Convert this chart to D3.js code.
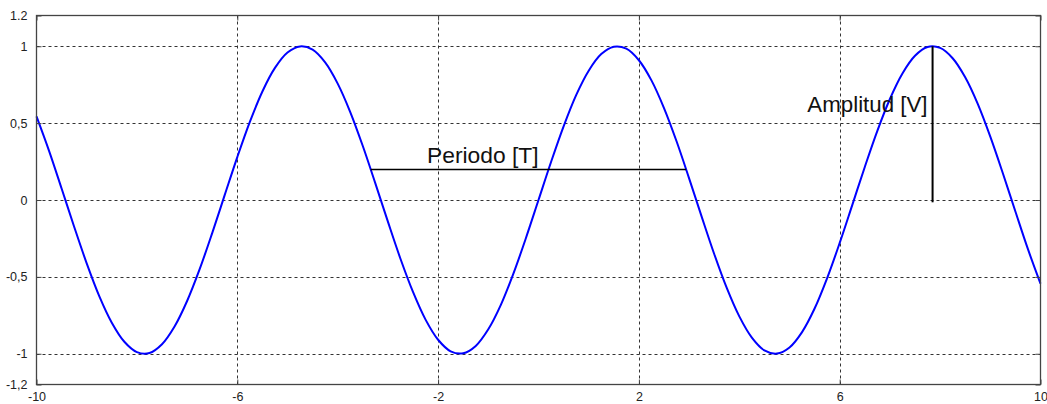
<!DOCTYPE html>
<html>
<head>
<meta charset="utf-8">
<script src="https://cdn.jsdelivr.net/npm/d3@7"></script>
<style>
  html, body { margin: 0; padding: 0; background: #fff; }
  svg { display: block; font-family: "Liberation Sans", Arial, sans-serif; }
</style>
</head>
<body>
<svg id="chart" width="1047" height="404"></svg>
<script>
// Sampled signal: x positions and measured amplitude
const xValues = [
  -10, -9.75, -9.5, -9.25, -9, -8.75, -8.5, -8.25, -8, -7.75, -7.5, -7.25, -7, -6.75, -6.5, -6.25,
  -6, -5.75, -5.5, -5.25, -5, -4.75, -4.5, -4.25, -4, -3.75, -3.5, -3.25, -3, -2.75, -2.5, -2.25,
  -2, -1.75, -1.5, -1.25, -1, -0.75, -0.5, -0.25, 0, 0.25, 0.5, 0.75, 1, 1.25, 1.5, 1.75,
  2, 2.25, 2.5, 2.75, 3, 3.25, 3.5, 3.75, 4, 4.25, 4.5, 4.75, 5, 5.25, 5.5, 5.75,
  6, 6.25, 6.5, 6.75, 7, 7.25, 7.5, 7.75, 8, 8.25, 8.5, 8.75, 9, 9.25, 9.5, 9.75, 10
];
const yValues = [
  0.544, 0.320, 0.075, -0.174, -0.412, -0.625, -0.798, -0.922, -0.989, -0.995, -0.938, -0.823, -0.657, -0.450, -0.215, 0.033,
  0.279, 0.508, 0.706, 0.859, 0.959, 0.999, 0.978, 0.895, 0.757, 0.572, 0.351, 0.108, -0.141, -0.382, -0.598, -0.778,
  -0.909, -0.984, -0.997, -0.949, -0.841, -0.682, -0.479, -0.247, 0, 0.247, 0.479, 0.682, 0.841, 0.949, 0.997, 0.984,
  0.909, 0.778, 0.598, 0.382, 0.141, -0.108, -0.351, -0.572, -0.757, -0.895, -0.978, -0.999, -0.959, -0.859, -0.706, -0.508,
  -0.279, -0.033, 0.215, 0.450, 0.657, 0.823, 0.938, 0.995, 0.989, 0.922, 0.798, 0.625, 0.412, 0.174, -0.075, -0.320, -0.544
];

// Axis ticks and their labels
const xTicks = [-10, -6, -2, 2, 6, 10];
const xTickLabels = ["-10", "-6", "-2", "2", "6", "10"];
const yTicks = [-1.2, -1, -0.5, 0, 0.5, 1, 1.2];
const yTickLabels = ["-1,2", "-1", "-0,5", "0", "0,5", "1", "1.2"];

// Annotations: period bar and amplitude bar
const periodBar = [-3.343, 2.940];   // x extent
const periodLevel = 0.2;             // y level
const periodLabel = "Periodo [T]";
const amplitudeAt = 7.85;            // x position
const amplitudeSpan = [-0.015, 1];   // y extent
const amplitudeLabel = "Amplitud [V]";

const svg = d3.select("#chart");
const plotLeft = 36.5, plotRight = 1040.5, plotTop = 15.5, plotBottom = 384.5;

const x = d3.scaleLinear().domain([-10, 10]).range([plotLeft, plotRight]);
const y = d3.scaleLinear().domain([-1.2, 1.2]).range([plotBottom, plotTop]);

const gridColor = "#333";
const axisColor = "#444";

// Grid lines (dashed), only at interior ticks
const g = svg.append("g");
g.selectAll("line.vgrid")
  .data(xTicks.filter(v => v > -10 && v < 10))
  .join("line")
  .attr("x1", d => Math.round(x(d)) + 0.5).attr("x2", d => Math.round(x(d)) + 0.5)
  .attr("y1", plotTop).attr("y2", plotBottom)
  .attr("stroke", gridColor).attr("stroke-width", 1)
  .attr("stroke-dasharray", "3,3");
g.selectAll("line.hgrid")
  .data(yTicks.filter(v => v > -1.2 && v < 1.2))
  .join("line")
  .attr("y1", d => Math.round(y(d)) + 0.5).attr("y2", d => Math.round(y(d)) + 0.5)
  .attr("x1", plotLeft).attr("x2", plotRight)
  .attr("stroke", gridColor).attr("stroke-width", 1)
  .attr("stroke-dasharray", "3,3");

// Signal curve
const line = d3.line()
  .x((d, i) => x(xValues[i]))
  .y(d => y(d))
  .curve(d3.curveCatmullRom);
svg.append("path")
  .datum(yValues)
  .attr("d", line)
  .attr("fill", "none")
  .attr("stroke", "#0000ff")
  .attr("stroke-width", 2);

// Annotation bars
svg.append("line")
  .attr("x1", x(periodBar[0])).attr("x2", x(periodBar[1]))
  .attr("y1", Math.round(y(periodLevel)) + 0.5).attr("y2", Math.round(y(periodLevel)) + 0.5)
  .attr("stroke", "#000").attr("stroke-width", 1.6);
svg.append("text")
  .attr("x", 427).attr("y", y(periodLevel) - 6.5)
  .attr("font-size", 22.8).attr("fill", "#111")
  .text(periodLabel);

svg.append("line")
  .attr("x1", x(amplitudeAt)).attr("x2", x(amplitudeAt))
  .attr("y1", y(amplitudeSpan[1])).attr("y2", y(amplitudeSpan[0]))
  .attr("stroke", "#000").attr("stroke-width", 2);
svg.append("text")
  .attr("x", x(amplitudeAt) - 5).attr("y", 111.5)
  .attr("text-anchor", "end")
  .attr("font-size", 22.3).attr("fill", "#111")
  .text(amplitudeLabel);

// Frame
svg.append("rect")
  .attr("x", plotLeft).attr("y", plotTop)
  .attr("width", plotRight - plotLeft).attr("height", plotBottom - plotTop)
  .attr("fill", "none").attr("stroke", axisColor).attr("stroke-width", 1.3);

// Axes with inward ticks
const xAxis = d3.axisBottom(x).tickValues(xTicks)
  .tickFormat((d, i) => xTickLabels[i]).tickSizeInner(-5).tickSizeOuter(0).tickPadding(10);
const yAxis = d3.axisLeft(y).tickValues(yTicks)
  .tickFormat((d, i) => yTickLabels[i]).tickSizeInner(-5).tickSizeOuter(0).tickPadding(9);

const gx = svg.append("g").attr("transform", `translate(0,${plotBottom})`).call(xAxis);
const gy = svg.append("g").attr("transform", `translate(${plotLeft},0)`).call(yAxis);
[gx, gy].forEach(a => {
  a.select(".domain").remove();
  a.selectAll(".tick line").attr("stroke", axisColor);
  a.selectAll(".tick text")
    .attr("fill", "#222")
    .attr("font-size", 12.5)
    .attr("font-family", "'Liberation Sans', Arial, sans-serif");
});
gx.selectAll(".tick text").attr("dy", "0.5em");

// Mirror ticks on the top and right sides
const gxTop = svg.append("g").attr("transform", `translate(0,${plotTop})`)
  .call(d3.axisTop(x).tickValues(xTicks).tickFormat("").tickSizeInner(-5).tickSizeOuter(0));
const gyRight = svg.append("g").attr("transform", `translate(${plotRight},0)`)
  .call(d3.axisRight(y).tickValues(yTicks).tickFormat("").tickSizeInner(-5).tickSizeOuter(0));
[gxTop, gyRight].forEach(a => {
  a.select(".domain").remove();
  a.selectAll(".tick line").attr("stroke", axisColor);
});
</script>
</body>
</html>
